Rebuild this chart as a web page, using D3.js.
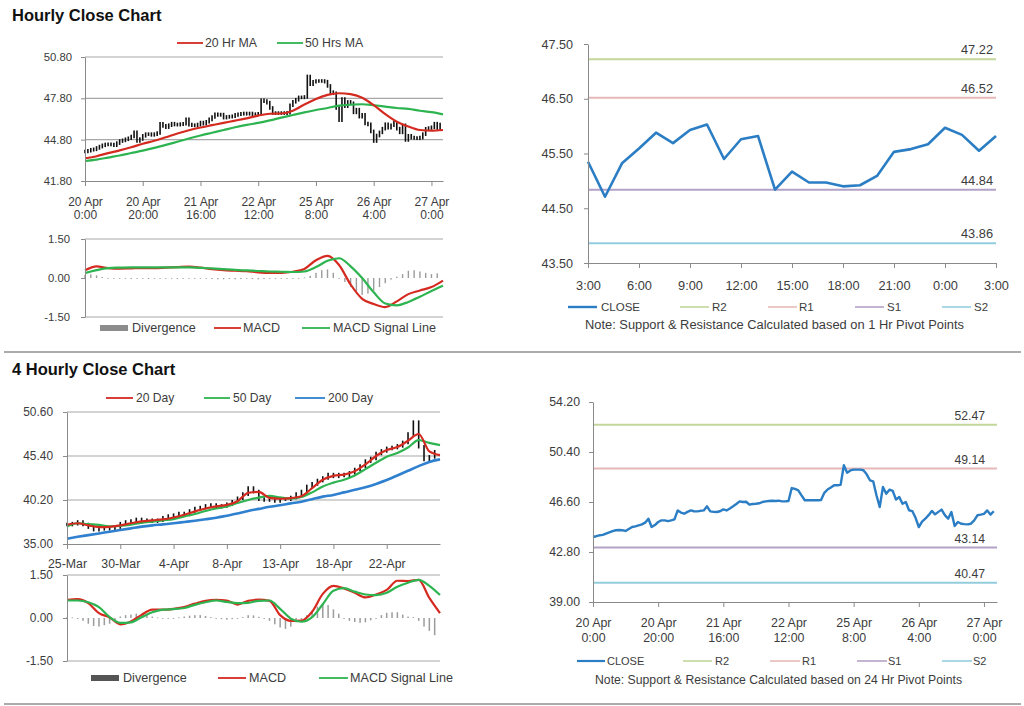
<!DOCTYPE html>
<html><head><meta charset="utf-8">
<script src="https://cdn.jsdelivr.net/npm/d3@7/dist/d3.min.js"></script>
<style>
html,body{margin:0;padding:0;background:#fff;}
svg{display:block;}
</style></head>
<body>
<svg id="chart" width="1024" height="706"></svg>
<script>
// ================= DATA =================
// Hourly (20 Apr 0:00 -> 27 Apr ~3:00), category index = hour
const hourTickPos = [0, 20, 40, 60, 80, 100, 120];
const hourTickLabels = [["20 Apr","0:00"],["20 Apr","20:00"],["21 Apr","16:00"],["22 Apr","12:00"],["25 Apr","8:00"],["26 Apr","4:00"],["27 Apr","0:00"]];
const hourlyClose = [
 43.94,44.0,44.07,44.1,44.2,44.3,44.39,44.45,44.47,44.45,
 44.4,44.55,44.7,44.75,44.83,44.9,45.03,45.33,44.7,44.85,
 45.08,45.2,45.2,45.15,45.2,45.28,45.96,45.8,45.71,45.85,
 45.96,45.9,45.89,45.93,45.96,46.27,45.89,45.85,45.84,45.9,
 46.04,45.96,46.1,46.27,46.45,46.65,46.6,46.62,46.4,46.45,
 46.47,46.5,46.6,46.65,46.68,46.7,46.68,46.7,46.65,46.65,
 46.68,47.66,47.6,47.49,47.1,46.73,46.73,46.73,46.73,46.73,
 46.75,47.3,47.55,47.7,47.87,47.87,47.9,49.39,48.83,49.0,
 49.06,49.06,49.06,49.01,48.7,48.25,48.17,47.11,46.22,47.74,
 47.23,47.54,47.44,46.78,46.98,46.47,46.6,45.97,45.91,45.4,
 44.7,45.1,45.33,45.6,45.92,45.66,45.85,46.02,45.6,45.33,
 45.84,44.78,45.08,44.95,44.92,44.9,44.95,45.2,45.59,45.64,
 45.7,45.96,45.64,45.9];
// MA / MACD values read every 4 hours (hours 0,4,...,124)
const ma20Hr = [43.45,43.6,43.82,44.02,44.25,44.5,44.72,44.98,45.25,45.48,45.68,45.85,46.02,46.18,46.35,46.55,
                46.68,46.7,46.9,47.35,47.75,48.05,48.17,48.1,47.85,47.3,46.65,46.1,45.75,45.5,45.45,45.5];
const ma50Hr = [43.25,43.35,43.5,43.65,43.83,44.0,44.2,44.42,44.65,44.88,45.1,45.3,45.5,45.7,45.87,46.02,
                46.2,46.4,46.59,46.78,46.95,47.1,47.27,47.34,47.37,47.3,47.2,47.1,47.03,46.9,46.8,46.64];
const macdHr = [0.3,0.45,0.38,0.36,0.37,0.38,0.38,0.4,0.42,0.44,0.4,0.34,0.3,0.28,0.26,0.22,
                0.2,0.2,0.24,0.35,0.68,0.85,0.5,-0.25,-0.8,-1.0,-1.12,-0.9,-0.62,-0.48,-0.35,-0.1];
const signalHr = [0.19,0.3,0.38,0.4,0.41,0.41,0.41,0.41,0.41,0.41,0.39,0.37,0.34,0.31,0.29,0.27,
                  0.25,0.24,0.23,0.25,0.42,0.66,0.76,0.45,0.0,-0.55,-0.98,-1.05,-0.92,-0.72,-0.5,-0.3];
// divergence read every 2 hours (hours 0,2,...,122)
const divergenceHr = [
 0.12,0.14,0.1,0.04,0.0,-0.02,-0.03,-0.03,-0.04,-0.03,
 -0.03,-0.04,-0.03,-0.02,-0.03,-0.03,-0.04,-0.03,-0.02,0.0,
 -0.02,-0.03,-0.04,-0.05,-0.05,-0.04,-0.05,-0.04,-0.03,-0.04,
 -0.05,-0.04,-0.03,-0.02,-0.03,-0.02,-0.01,-0.02,0.02,0.08,
 0.2,0.3,0.33,0.2,0.0,-0.15,-0.35,-0.52,-0.65,-0.6,
 -0.48,-0.35,-0.2,-0.06,0.05,0.15,0.28,0.3,0.25,0.2,
 0.15,0.18];

// 1 Hr pivot chart (3:00 -> 3:00)
const pivot1TickPos = [0,3,6,9,12,15,18,21,24];
const pivot1TickLabels = ["3:00","6:00","9:00","12:00","15:00","18:00","21:00","0:00","3:00"];
const pivot1Close = [45.35,44.71,45.32,45.59,45.88,45.69,45.93,46.03,45.40,45.76,45.82,44.84,45.17,
                     44.97,44.97,44.90,44.92,45.09,45.53,45.58,45.67,45.97,45.84,45.55,45.82];
const pivotNames = ["R2","R1","S1","S2"];
const pivot1Levels = [47.22, 46.52, 44.84, 43.86];
const pivot24Levels = [52.47, 49.14, 43.14, 40.47];

// 4 Hourly chart (bars 0..140), ticks every 20 bars
const fourHrTickPos = [0,20,40,60,80,100,120];
const fourHrTickLabels = ["25-Mar","30-Mar","4-Apr","8-Apr","13-Apr","18-Apr","22-Apr"];
// close read every 2 bars (0,2,...,138)
const close4h = [
 37.3,37.4,37.6,37.3,37.0,36.7,36.8,36.9,36.8,37.0,
 37.4,37.6,37.7,37.9,37.8,37.8,37.7,37.8,38.1,38.3,
 38.4,38.6,38.5,38.9,39.2,39.3,39.5,39.6,39.4,39.5,
 39.7,40.0,40.4,40.9,41.6,41.2,40.3,40.2,40.4,40.1,
 40.3,40.3,40.5,40.9,41.2,41.8,42.1,42.5,42.8,43.2,
 43.0,43.2,43.1,43.4,43.8,44.2,44.8,45.1,45.7,46.0,
 46.3,46.4,46.6,47.0,48.0,49.4,46.5,45.0,45.3,45.9];
// MAs / MACD read every 4 bars (0,4,...,140)
const ma20Day = [37.27,37.45,37.2,37.0,37.03,37.2,37.45,37.68,37.8,37.9,38.13,38.45,38.85,39.2,39.45,39.62,
                 40.05,41.05,41.15,40.45,40.35,40.42,40.65,41.6,42.6,43.05,43.2,43.6,44.4,45.4,46.1,46.45,
                 47.2,48.0,45.95,45.5];
const ma50Day = [37.08,37.45,37.35,37.25,37.1,37.15,37.3,37.5,37.65,37.8,37.94,38.25,38.55,38.9,39.2,39.43,
                 39.85,40.2,40.48,40.68,40.5,40.35,40.55,41.1,41.8,42.25,42.6,43.1,43.85,44.6,45.31,45.75,
                 46.4,47.27,46.95,46.68];
const ma200Day = [35.63,35.85,36.05,36.25,36.45,36.65,36.85,37.05,37.2,37.32,37.45,37.6,37.75,37.92,38.1,38.35,
                  38.6,38.9,39.15,39.4,39.58,39.8,40.0,40.3,40.6,40.8,41.1,41.4,41.7,42.1,42.56,43.1,
                  43.65,44.2,44.7,45.0];
const macd4h = [0.63,0.66,0.52,0.17,0.02,-0.22,-0.12,0.11,0.29,0.29,0.32,0.38,0.5,0.6,0.63,0.61,
                0.47,0.6,0.64,0.6,0.1,-0.1,-0.09,0.22,0.84,1.12,1.03,0.88,0.72,0.82,0.98,1.3,
                1.29,1.33,0.7,0.17];
const signal4h = [0.61,0.61,0.55,0.38,0.03,-0.17,-0.15,0.03,0.2,0.29,0.31,0.35,0.46,0.55,0.61,0.56,
                  0.52,0.53,0.6,0.61,0.32,-0.02,-0.13,0.03,0.48,0.95,1.04,0.92,0.82,0.8,0.88,1.09,
                  1.23,1.33,1.12,0.8];
// divergence read every 2 bars
const divergence4h = [
 0.03,0.02,-0.03,-0.1,-0.2,-0.28,-0.3,-0.25,-0.2,-0.08,
 0.05,0.1,0.12,0.15,0.13,0.1,0.05,0.02,-0.02,-0.02,
 0.0,0.02,0.05,0.08,0.1,0.1,0.07,0.03,-0.02,-0.04,
 -0.06,-0.04,-0.02,0.03,0.1,0.09,0.04,-0.03,-0.1,-0.22,
 -0.33,-0.38,-0.3,-0.15,-0.05,0.1,0.25,0.4,0.5,0.45,
 0.3,0.15,-0.03,-0.1,-0.14,-0.17,-0.15,-0.08,0.0,0.1,
 0.18,0.2,0.2,0.12,0.05,0.03,-0.1,-0.3,-0.45,-0.6];

// category positions of the sampled series
const hrIdx = d3.range(hourlyClose.length);
const hr4Idx = d3.range(0, 125, 4);
const hr2Idx = d3.range(0, 124, 2);
const p1Idx = d3.range(pivot1Close.length);
const b2Idx = d3.range(0, 140, 2);
const b4Idx = d3.range(0, 141, 4);

// ================= DRAWING =================
const svg = d3.select("#chart");
const FONT = "Arial, 'Liberation Sans', Helvetica, sans-serif";
const TXT = "#3c3c3c";
const GRIDC = "#a8a8a8";
const AXISC = "#8a8a8a";
const RED = "#d42a20", GREEN = "#2db450", BLUE = "#2f80cf", CLOSEC = "#2b7dc4", DIVC = "#9c9c9c";
const pivotColors = ["#c3d69b","#e6b9b8","#b3a2c7","#93cddd"];
const fmt2 = d => d.toFixed(2);

function text(x, y, s, o = {}) {
  const t = svg.append("text").attr("x", x).attr("y", y).text(s)
    .attr("font-family", FONT).attr("font-size", o.size || 12)
    .attr("font-weight", o.weight || "normal").attr("fill", o.fill || TXT)
    .attr("text-anchor", o.anchor || "start");
  if (o.len) t.attr("textLength", o.len).attr("lengthAdjust", "spacingAndGlyphs");
  return t;
}
function leftAxis(scale, vals, x, labelRight, fs) {
  const g = svg.append("g").attr("transform", `translate(${x},0)`)
    .call(d3.axisLeft(scale).tickValues(vals).tickSize(4).tickSizeOuter(0).tickFormat(fmt2));
  g.select(".domain").attr("stroke", AXISC);
  g.selectAll(".tick line").attr("stroke", AXISC);
  g.selectAll(".tick text").attr("font-family", FONT).attr("font-size", fs).attr("fill", TXT)
    .attr("x", labelRight - x);
}
function bottomAxis(scale, vals, y, labels, dy1, dy2, fs) {
  const g = svg.append("g").attr("transform", `translate(0,${y})`)
    .call(d3.axisBottom(scale).tickValues(vals).tickSize(5).tickSizeOuter(0).tickFormat(""));
  g.select(".domain").attr("stroke", AXISC);
  g.selectAll(".tick line").attr("stroke", AXISC);
  g.selectAll(".tick").each(function(d, i) {
    const t = d3.select(this).append("text").attr("font-family", FONT).attr("font-size", fs)
      .attr("fill", TXT).attr("text-anchor", "middle");
    const lab = labels[i];
    if (Array.isArray(lab)) {
      t.append("tspan").attr("x", 0).attr("y", dy1).text(lab[0]);
      t.append("tspan").attr("x", 0).attr("y", dy2).text(lab[1]);
    } else t.attr("x", 0).attr("y", dy1).text(lab);
  });
}
function grid(xs, ys, vals) {
  svg.append("g").selectAll("line").data(vals).join("line")
    .attr("x1", xs.range()[0]).attr("x2", xs.range()[1])
    .attr("y1", d => ys(d)).attr("y2", d => ys(d))
    .attr("stroke", GRIDC).attr("stroke-width", 1.2);
}
function drawLine(xs, ys, xVals, vals, color, w, curve) {
  const line = d3.line().x((d, i) => xs(xVals[i])).y(d => ys(d)).curve(curve || d3.curveMonotoneX);
  svg.append("path").datum(vals).attr("d", line).attr("fill", "none")
    .attr("stroke", color).attr("stroke-width", w).attr("stroke-linejoin", "round");
}
function drawBars(xs, ys, xVals, closes) {
  svg.append("g").selectAll("line").data(closes).join("line")
    .attr("x1", (d, i) => xs(xVals[i])).attr("x2", (d, i) => xs(xVals[i]))
    .attr("y1", (d, i) => ys(Math.max(d, i ? closes[i - 1] : d)) - 1.8)
    .attr("y2", (d, i) => ys(Math.min(d, i ? closes[i - 1] : d)) + 1.8)
    .attr("stroke", "#111").attr("stroke-width", 1.6);
}
function drawDiv(xs, ys, xVals, vals, w) {
  svg.append("g").selectAll("rect").data(vals).join("rect")
    .attr("x", (d, i) => xs(xVals[i]) - w / 2).attr("width", w)
    .attr("y", d => ys(Math.max(0, d))).attr("height", d => Math.max(0.8, Math.abs(ys(d) - ys(0))))
    .attr("fill", DIVC);
}
function legLine(x1, x2, y, color, w) {
  svg.append("line").attr("x1", x1).attr("x2", x2).attr("y1", y).attr("y2", y)
    .attr("stroke", color).attr("stroke-width", w);
}
function sep(y) {
  svg.append("line").attr("x1", 4).attr("x2", 1021).attr("y1", y).attr("y2", y)
    .attr("stroke", "#8f8f8f").attr("stroke-width", 1.6);
}

// ---------- Titles & separators ----------
text(12, 21, "Hourly Close Chart", {size: 16.5, weight: "bold", fill: "#111"});
text(12, 375, "4 Hourly Close Chart", {size: 16.5, weight: "bold", fill: "#111"});
sep(352);
sep(704);

// ---------- Panel A: hourly price ----------
const xA = d3.scaleLinear().domain([0, 124]).range([85, 443]);
const yA = d3.scaleLinear().domain([41.8, 50.8]).range([181, 57]);
grid(xA, yA, [44.8, 47.8, 50.8]);
drawBars(xA, yA, hrIdx, hourlyClose);
drawLine(xA, yA, hr4Idx, ma50Hr, GREEN, 2.2);
drawLine(xA, yA, hr4Idx, ma20Hr, RED, 2.2);
leftAxis(yA, [41.8, 44.8, 47.8, 50.8], 85, 72, 11.3);
bottomAxis(xA, hourTickPos, 181, hourTickLabels, 25, 38, 12);
legLine(177, 203, 43, RED, 1.8); text(205, 47, "20 Hr MA", {size: 12.3});
legLine(277, 303, 43, GREEN, 1.8); text(305, 47, "50 Hrs MA", {size: 12.3});

// ---------- Panel B: hourly MACD ----------
const yB = d3.scaleLinear().domain([-1.5, 1.5]).range([317, 239]);
grid(xA, yB, [1.5, -1.5]);
drawDiv(xA, yB, hr2Idx, divergenceHr, 1.4);
drawLine(xA, yB, hr4Idx, macdHr, RED, 2.2);
drawLine(xA, yB, hr4Idx, signalHr, GREEN, 2.2);
leftAxis(yB, [-1.5, 0, 1.5], 85, 70, 11.3);
svg.append("rect").attr("x", 100).attr("y", 325).attr("width", 28).attr("height", 6).attr("fill", "#8c8c8c");
text(132, 332, "Divergence", {size: 12.6});
legLine(214, 241, 328, RED, 1.8); text(243, 332, "MACD", {size: 12.6});
legLine(302, 330, 328, GREEN, 1.8); text(333, 332, "MACD Signal Line", {size: 12.6});

// ---------- Panel C: 1 Hr pivot ----------
const xC = d3.scaleLinear().domain([0, 24]).range([588, 996]);
const yC = d3.scaleLinear().domain([43.5, 47.5]).range([263, 44]);
pivot1Levels.forEach((v, i) => {
  svg.append("line").attr("x1", xC(0)).attr("x2", xC(24)).attr("y1", yC(v)).attr("y2", yC(v))
    .attr("stroke", pivotColors[i]).attr("stroke-width", 2);
  text(993, yC(v) - 5, fmt2(v), {anchor: "end", size: 12.8});
});
drawLine(xC, yC, p1Idx, pivot1Close, CLOSEC, 2.6, d3.curveLinear);
leftAxis(yC, [43.5, 44.5, 45.5, 46.5, 47.5], 588, 573, 12.6);
bottomAxis(xC, pivot1TickPos, 263, pivot1TickLabels, 27, null, 12.8);
legLine(568, 597, 307, CLOSEC, 2.4); text(601, 311, "CLOSE", {size: 11.5});
legLine(680, 709, 307, pivotColors[0], 1.6); text(712, 311, pivotNames[0], {size: 11.5});
legLine(768, 797, 307, pivotColors[1], 1.6); text(799, 311, pivotNames[1], {size: 11.5});
legLine(855, 884, 307, pivotColors[2], 1.6); text(887, 311, pivotNames[2], {size: 11.5});
legLine(942, 971, 307, pivotColors[3], 1.6); text(974, 311, pivotNames[3], {size: 11.5});
text(585, 329, "Note: Support & Resistance Calculated based on 1 Hr Pivot Points", {size: 12.3, len: 379});

// ---------- Panel D: 4 hourly price ----------
const xD = d3.scaleLinear().domain([0, 140]).range([67, 440]);
const yD = d3.scaleLinear().domain([35, 50.6]).range([544, 412]);
grid(xD, yD, [40.2, 45.4, 50.6]);
drawBars(xD, yD, b2Idx, close4h);
drawLine(xD, yD, b4Idx, ma50Day, GREEN, 2.2);
drawLine(xD, yD, b4Idx, ma20Day, RED, 2.2);
drawLine(xD, yD, b4Idx, ma200Day, BLUE, 2.6);
leftAxis(yD, [35, 40.2, 45.4, 50.6], 67, 53, 11.9);
bottomAxis(xD, fourHrTickPos, 544, fourHrTickLabels, 24, null, 12.3);
legLine(106, 133, 398, RED, 1.8); text(136, 402, "20 Day", {size: 12.1});
legLine(204, 230, 398, GREEN, 1.8); text(233, 402, "50 Day", {size: 12.1});
legLine(295, 325, 398, BLUE, 1.8); text(328, 402, "200 Day", {size: 12.1});

// ---------- Panel E: 4 hourly MACD ----------
const yE = d3.scaleLinear().domain([-1.5, 1.5]).range([661, 575]);
grid(xD, yE, [1.5, -1.5]);
drawDiv(xD, yE, b2Idx, divergence4h, 1.5);
drawLine(xD, yE, b4Idx, macd4h, RED, 2.2);
drawLine(xD, yE, b4Idx, signal4h, GREEN, 2.2);
leftAxis(yE, [-1.5, 0, 1.5], 67, 53, 11.9);
svg.append("rect").attr("x", 91).attr("y", 675).attr("width", 28).attr("height", 6).attr("fill", "#555");
text(123, 682, "Divergence", {size: 12.6});
legLine(218, 246, 678, RED, 1.8); text(249, 682, "MACD", {size: 12.6});
legLine(319, 348, 678, GREEN, 1.8); text(350, 682, "MACD Signal Line", {size: 12.6});

// ---------- Panel F: 24 Hr pivot ----------
const xF = d3.scaleLinear().domain([0, 124]).range([593, 997]);
const yF = d3.scaleLinear().domain([39, 54.2]).range([602, 402]);
pivot24Levels.forEach((v, i) => {
  svg.append("line").attr("x1", xF(0)).attr("x2", xF(124)).attr("y1", yF(v)).attr("y2", yF(v))
    .attr("stroke", pivotColors[i]).attr("stroke-width", 2);
  text(985, yF(v) - 5, fmt2(v), {anchor: "end", size: 12.2});
});
drawLine(xF, yF, hrIdx, hourlyClose, CLOSEC, 2.4, d3.curveLinear);
leftAxis(yF, [39, 42.8, 46.6, 50.4, 54.2], 593, 580, 12.3);
bottomAxis(xF, hourTickPos, 602, hourTickLabels, 25, 40, 12.4);
legLine(577, 605, 661, CLOSEC, 2.2); text(607, 665, "CLOSE", {size: 11});
legLine(683, 712, 661, pivotColors[0], 1.6); text(715, 665, pivotNames[0], {size: 11});
legLine(770, 800, 661, pivotColors[1], 1.6); text(802, 665, pivotNames[1], {size: 11});
legLine(857, 887, 661, pivotColors[2], 1.6); text(888, 665, pivotNames[2], {size: 11});
legLine(942, 972, 661, pivotColors[3], 1.6); text(973, 665, pivotNames[3], {size: 11});
text(595, 684, "Note: Support & Resistance Calculated based on 24 Hr Pivot Points", {size: 12.1, len: 367});
</script>
</body></html>
